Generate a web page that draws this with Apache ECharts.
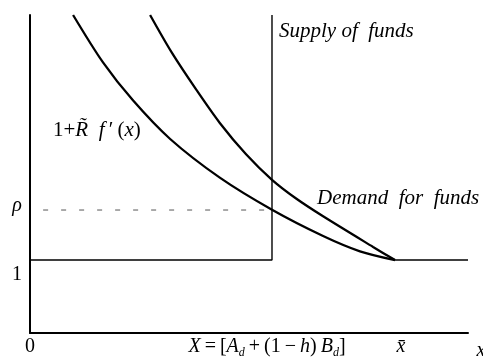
<!DOCTYPE html>
<html>
<head>
<meta charset="utf-8">
<script src="https://cdn.jsdelivr.net/npm/echarts@6/dist/echarts.min.js"></script>
<style>
  html, body { margin: 0; padding: 0; background: #fff; }
  #chart { width: 483px; height: 358px; }
</style>
</head>
<body>
<div id="chart"></div>
<script>
// x measured so that x-bar = 10, y so that the flat rate = 1
const X_MAX = 12
const Y_MAX = 4.36
const X_SUPPLY = 6.63
const X_BAR = 10
const RHO = 1.686
const FLOOR = 1

// 1 + R f'(x)
const marginalX = [1.18, 2.0, 2.82, 3.84, 5.2, 6.63, 8.03, 9.04, 10]
const marginalY = [4.36, 3.71, 3.19, 2.66, 2.13, 1.69, 1.33, 1.12, 1.0]
// demand for funds
const demandX = [3.29, 3.89, 4.55, 5.2, 5.92, 6.63, 7.3, 8.03, 9.4, 10]
const demandY = [4.36, 3.84, 3.34, 2.88, 2.45, 2.10, 1.84, 1.6, 1.18, 1.0]

const xTickValues = [0, X_SUPPLY, X_BAR]
const xTickLabels = [
  '{r|0}',
  '{i|X}{r|\u2009=\u2009[}{i|A}{s|d}{r|\u2009+\u2009(1\u2009−\u2009}{i|h}{r|)\u2009}{i|B}{s|d}{r|]}',
  '{i|x̄}'
]
const yTickValues = [RHO, FLOOR]
const yTickLabels = ['{i|ρ}', '{r|1}']

const serif = '"Liberation Serif", "DejaVu Serif", serif'
const rich = {
  r: { fontFamily: serif, fontSize: 20, fill: '#000', lineHeight: 24 },
  i: { fontFamily: serif, fontSize: 20, fontStyle: 'italic', fill: '#000', lineHeight: 24 },
  s: { fontFamily: serif, fontSize: 12, fontStyle: 'italic', fill: '#000', verticalAlign: 'bottom', lineHeight: 24 },
  c: { fontFamily: serif, fontSize: 21, fontStyle: 'italic', fill: '#000', lineHeight: 24 },
  m: { fontFamily: serif, fontSize: 21, fill: '#000', lineHeight: 24 }
}

const pairs = (xs, ys) => xs.map((x, i) => [x, ys[i]])

const chart = echarts.init(document.getElementById('chart'))

chart.setOption({
  animation: false,
  backgroundColor: '#fff',
  grid: { left: 30, right: 15, top: 15, bottom: 25 },
  xAxis: {
    type: 'value', min: 0, max: X_MAX,
    axisLine: { lineStyle: { color: '#000', width: 2 } },
    axisTick: { show: false }, axisLabel: { show: false }, splitLine: { show: false }
  },
  yAxis: {
    type: 'value', min: 0, max: Y_MAX,
    axisLine: { show: true, lineStyle: { color: '#000', width: 2 } },
    axisTick: { show: false }, axisLabel: { show: false }, splitLine: { show: false }
  },
  series: [
    {
      name: 'marginal', type: 'line', smooth: 0.3, symbol: 'none',
      lineStyle: { color: '#000', width: 2.3 },
      data: pairs(marginalX, marginalY)
    },
    {
      name: 'demand', type: 'line', smooth: 0.3, symbol: 'none',
      lineStyle: { color: '#000', width: 2.3 },
      data: pairs(demandX, demandY)
    },
    {
      name: 'demand flat', type: 'line', symbol: 'none',
      lineStyle: { color: '#000', width: 1.4 },
      data: [[X_BAR, FLOOR], [X_MAX, FLOOR]]
    },
    {
      name: 'supply', type: 'line', symbol: 'none',
      lineStyle: { color: '#000', width: 1.4 },
      data: [[0, FLOOR], [X_SUPPLY, FLOOR], [X_SUPPLY, Y_MAX]]
    },
    {
      name: 'rho', type: 'line', symbol: 'none',
      lineStyle: { color: '#555', width: 1, type: [5, 13] },
      data: [[0.36, RHO], [X_SUPPLY, RHO]]
    }
  ]
})

const px = (x, y) => chart.convertToPixel({ gridIndex: 0 }, [x, y])

const graphic = []
xTickValues.forEach((v, i) => {
  const p = px(v, 0)
  graphic.push({
    type: 'text', x: p[0] + (i === 1 ? -5 : (i === 2 ? 6 : 0)), y: p[1] + 14,
    style: { text: xTickLabels[i], rich: rich, align: 'center', verticalAlign: 'middle' }
  })
})
yTickValues.forEach((v, i) => {
  const p = px(0, v)
  graphic.push({
    type: 'text', x: p[0] - 13, y: p[1] + (i === 0 ? -4 : 15),
    style: { text: yTickLabels[i], rich: rich, align: 'center', verticalAlign: 'middle' }
  })
})

// axis name and curve captions
const xEnd = px(X_MAX, 0)
graphic.push({
  type: 'text', x: xEnd[0] + 13, y: xEnd[1] + 18,
  style: { text: '{i|x}', rich: rich, align: 'center', verticalAlign: 'middle' }
})
const sTop = px(X_SUPPLY, Y_MAX)
graphic.push({
  type: 'text', x: sTop[0] + 7, y: sTop[1] + 16,
  style: { text: '{c|Supply of  funds}', rich: rich, align: 'left', verticalAlign: 'middle' }
})
const dLab = px(X_SUPPLY, RHO)
graphic.push({
  type: 'text', x: dLab[0] + 45, y: dLab[1] - 12,
  style: { text: '{c|Demand  for  funds}', rich: rich, align: 'left', verticalAlign: 'middle' }
})
const mLab = px(0, 2.78)
graphic.push({
  type: 'text', x: mLab[0] + 23, y: mLab[1],
  style: { text: '{m|1+}{c|R̃\u2002}{c|f\u2009}{m|′\u2009(}{c|x}{m|)}', rich: rich, align: 'left', verticalAlign: 'middle' }
})

chart.setOption({ graphic: graphic })
</script>
</body>
</html>
